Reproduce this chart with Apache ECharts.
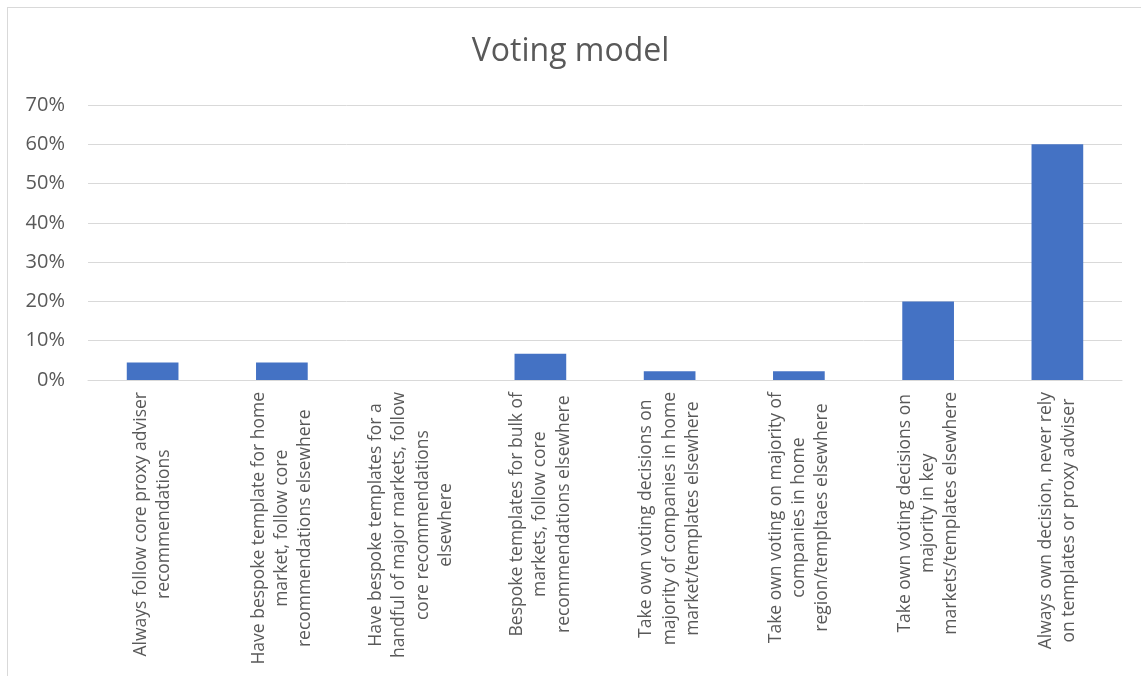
<!DOCTYPE html>
<html>
<head>
<meta charset="utf-8">
<script src="https://cdn.jsdelivr.net/npm/echarts@6/dist/echarts.min.js"></script>
<style>
  html, body { margin: 0; padding: 0; background: #ffffff; }
  #chart { position: absolute; left: 0; top: 0; width: 1141px; height: 676px; }
  #frame { position: absolute; left: 7px; top: 7px; width: 1150px; height: 690px; border: 1px solid #d9d9d9; pointer-events: none; }
</style>
</head>
<body>
<div id="chart"></div>
<div id="frame"></div>
<script>
const titleText = 'Voting model';
const categories = [
  'Always follow core proxy adviser\nrecommendations',
  'Have bespoke template for home\nmarket, follow core\nrecommendations elsewhere',
  'Have bespoke templates for a\nhandful of major markets, follow\ncore recommendations\nelsewhere',
  'Bespoke templates for bulk of\nmarkets, follow core\nrecommendations elsewhere',
  'Take own voting decisions on\nmajority of companies in home\nmarket/templates elsewhere',
  'Take own voting on majority of\ncompanies in home\nregion/templtaes elsewhere',
  'Take own voting decisions on\nmajority in key\nmarkets/templates elsewhere',
  'Always own decision, never rely\non templates or proxy adviser'
];
const values = [4.44, 4.44, 0, 6.67, 2.22, 2.22, 20, 60];
const yTicks = { min: 0, max: 70, interval: 10 };

const fontFamily = '"Open Sans", "Liberation Sans", sans-serif';
const labelSize = 17.5;
const chart = echarts.init(document.getElementById('chart'));
chart.setOption({
  animation: false,
  backgroundColor: '#ffffff',
  title: {
    text: titleText,
    left: 'center',
    top: 31,
    textStyle: { fontFamily, fontSize: 32, fontWeight: 'normal', color: '#595959' }
  },
  grid: { left: 88, right: 19, top: 105, bottom: 296, containLabel: false },
  xAxis: {
    type: 'category',
    data: categories,
    axisLine: { show: true, lineStyle: { color: '#d9d9d9', width: 1 } },
    axisTick: { show: false },
    axisLabel: {
      interval: 0,
      rotate: 90,
      margin: 12,
      fontFamily,
      fontSize: labelSize,
      color: '#595959',
      lineHeight: 23.3,
      formatter: function (v) {
        return v.split('\n').map(function (l) { return '{c|' + l + '}'; }).join('\n');
      },
      rich: {
        c: { align: 'center', fontFamily, fontSize: labelSize, color: '#595959', lineHeight: 23.3 }
      }
    }
  },
  yAxis: {
    type: 'value',
    min: yTicks.min,
    max: yTicks.max,
    interval: yTicks.interval,
    axisLine: { show: false },
    axisTick: { show: false },
    splitLine: { lineStyle: { color: '#d9d9d9', width: 1 } },
    axisLabel: {
      formatter: '{value}%',
      margin: 23,
      fontFamily,
      fontSize: 20,
      color: '#595959'
    }
  },
  series: [{
    type: 'bar',
    data: values,
    barWidth: '40%',
    itemStyle: { color: '#4472c4' }
  }]
});
</script>
</body>
</html>
